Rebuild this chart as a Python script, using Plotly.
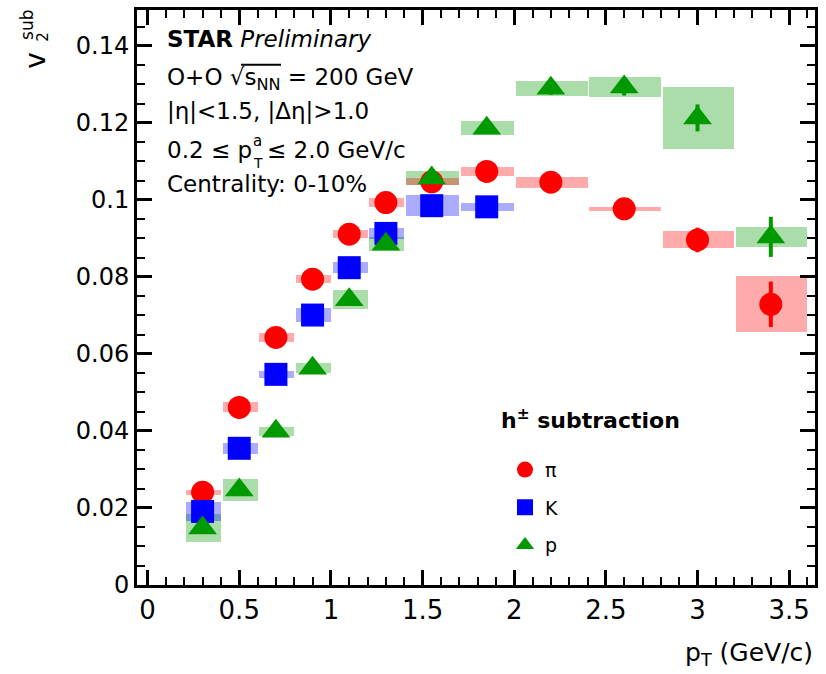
import plotly.graph_objects as go

# ---------------- data ----------------
pt_centers = [0.3, 0.5, 0.7, 0.9, 1.1, 1.3, 1.55, 1.85, 2.2, 2.6, 3.0, 3.4]
bin_lo = [0.2, 0.4, 0.6, 0.8, 1.0, 1.2, 1.4, 1.7, 2.0, 2.4, 2.8, 3.2]
bin_hi = [0.4, 0.6, 0.8, 1.0, 1.2, 1.4, 1.7, 2.0, 2.4, 2.8, 3.2, 3.6]

pion_v2 = [0.0241, 0.0461, 0.0643, 0.0794, 0.0911, 0.0993, 0.1047, 0.1074, 0.1046, 0.0977, 0.0896, 0.0729]
pion_stat = [0.0004, 0.0004, 0.0004, 0.0005, 0.0005, 0.0006, 0.0007, 0.0009, 0.0011, 0.0016, 0.0032, 0.0059]
pion_sys = [0.0006, 0.0013, 0.0012, 0.0011, 0.0011, 0.0011, 0.0009, 0.0012, 0.0014, 0.0005, 0.0022, 0.0073]

kaon_v2 = [0.0191, 0.0355, 0.0547, 0.0701, 0.0824, 0.0913, 0.0985, 0.0982]
kaon_stat = [0.0003, 0.0003, 0.0004, 0.0004, 0.0005, 0.0006, 0.0007, 0.0009]
kaon_sys = [0.0024, 0.0015, 0.0010, 0.0018, 0.0014, 0.0014, 0.0027, 0.0011]

proton_v2 = [0.0148, 0.0247, 0.0399, 0.0563, 0.0741, 0.0885, 0.1057, 0.1186, 0.1290, 0.1293, 0.1213, 0.0904]
proton_stat = [0.0006, 0.0006, 0.0006, 0.0007, 0.0008, 0.0009, 0.0010, 0.0013, 0.0017, 0.0022, 0.0035, 0.0052]
proton_sys = [0.0037, 0.0029, 0.0012, 0.0013, 0.0025, 0.0018, 0.0019, 0.0018, 0.0019, 0.0025, 0.0081, 0.0026]

x_tickvals = [0, 0.5, 1, 1.5, 2, 2.5, 3, 3.5]
x_ticktext = ["0", "0.5", "1", "1.5", "2", "2.5", "3", "3.5"]
y_tickvals = [0, 0.02, 0.04, 0.06, 0.08, 0.10, 0.12, 0.14]
y_ticktext = ["0", "0.02", "0.04", "0.06", "0.08", "0.1", "0.12", "0.14"]

# ---------------- layout helpers ----------------
FONT = "DejaVu Sans"
W, H = 826, 674
ML, MR, MT, MB = 137, 11, 7, 89
PW = W - ML - MR
PH = H - MT - MB
BOX_GAP = 0.01


def px(xp):
    return (xp - ML) / PW


def py(yp):
    return (H - MB - yp) / PH


fig = go.Figure()


def add_boxes(vals, sys, color):
    n = len(vals)
    lo, hi = bin_lo[:n], bin_hi[:n]
    fig.add_trace(go.Bar(
        x=[(a + BOX_GAP + b) / 2 for a, b in zip(lo, hi)],
        y=[2 * s for s in sys],
        base=[v - s for v, s in zip(vals, sys)],
        width=[b - a - BOX_GAP for a, b in zip(lo, hi)],
        marker=dict(color=color, line=dict(width=0)),
        showlegend=False, hoverinfo="skip"))


add_boxes(proton_v2, proton_sys, "rgba(0,153,0,0.33)")
add_boxes(kaon_v2, kaon_sys, "rgba(0,0,255,0.33)")
add_boxes(pion_v2, pion_sys, "rgba(255,0,0,0.33)")


def add_points(vals, stat, color, symbol, size, name, grp):
    n = len(vals)
    fig.add_trace(go.Scatter(
        x=pt_centers[:n], y=vals, mode="markers", name=name, legendgroup=grp,
        marker=dict(symbol=symbol, size=size, color=color, line=dict(width=0)),
        error_y=dict(type="data", array=stat, width=0, thickness=4, color=color)))


add_points(pion_v2, pion_stat, "#FF0000", "circle", 23, "π", "pi")
add_points(kaon_v2, kaon_stat, "#0000FF", "square", 23, "K", "k")
add_points(proton_v2, proton_stat, "#009900", "triangle-up", 25, "p", "p")

ann = []
TXT = 23


def text(s, xp, yp, size=TXT, xanchor="left", angle=0):
    ann.append(dict(text=s, x=px(xp), y=py(yp), xref="paper", yref="paper",
                    xanchor=xanchor, yanchor="middle", showarrow=False,
                    textangle=angle, font=dict(family=FONT, size=size, color="black")))


text("<b>STAR</b> <i>Preliminary</i>", 165, 36)
text("O+O √s<sub>NN</sub> = 200 GeV", 165, 76)
text("|η|<1.5, |Δη|>1.0", 165, 109)
text("0.2 ≤ p", 165, 148)
text("a", 251, 139, size=15)
text("T", 251, 161, size=14)
text("≤ 2.0 GeV/c", 265, 148)
text("Centrality: 0-10%", 165, 182)

# legend header
text("<b>h<sup>±</sup> subtraction</b>", 499, 418, size=22)

# axis titles
text("p<sub>T</sub> (GeV/c)", 815, 654, size=25, xanchor="right")
text("v", 35.5, 57.5, size=28, xanchor="center", angle=-90)
text("sub", 27.5, 22.5, size=17, xanchor="center", angle=-90)
text("2", 43, 34, size=15, xanchor="center", angle=-90)

axis_common = dict(showline=True, linewidth=3, linecolor="black", mirror="ticks",
                   ticks="inside", ticklen=15, tickwidth=3, tickcolor="black",
                   showgrid=False, zeroline=False, tickmode="array")

fig.update_layout(
    width=W, height=H,
    margin=dict(l=ML, r=MR, t=MT, b=MB, pad=0),
    plot_bgcolor="white", paper_bgcolor="white",
    barmode="overlay", bargap=0,
    font=dict(family=FONT, color="black"),
    annotations=ann,
    shapes=[dict(type="line", xref="paper", yref="paper",
                 x0=px(241), x1=px(281), y0=py(62), y1=py(62),
                 line=dict(color="black", width=2))],
    xaxis=dict(range=[(ML - 147.6) / 183.3, (W - MR - 147.6) / 183.3],
               tickvals=x_tickvals, ticktext=x_ticktext,
               tickfont=dict(family=FONT, size=26),
               minor=dict(ticks="inside", ticklen=8, tickwidth=2, tickcolor="black",
                          tickmode="linear", tick0=0, dtick=0.1),
               **axis_common),
    yaxis=dict(range=[0, PH / 3871.0],
               tickvals=y_tickvals, ticktext=y_ticktext,
               tickfont=dict(family=FONT, size=24),
               minor=dict(ticks="inside", ticklen=8, tickwidth=2, tickcolor="black",
                          tickmode="linear", tick0=0, dtick=0.005),
               **axis_common),
    legend=dict(x=px(505), y=py(450), xanchor="left", yanchor="top",
                bgcolor="rgba(0,0,0,0)", borderwidth=0,
                font=dict(family=FONT, size=19),
                tracegroupgap=10, itemsizing="trace"),
)

fig.write_html("out.html", config={"displayModeBar": False},
               post_script="document.body.style.margin='0';")
